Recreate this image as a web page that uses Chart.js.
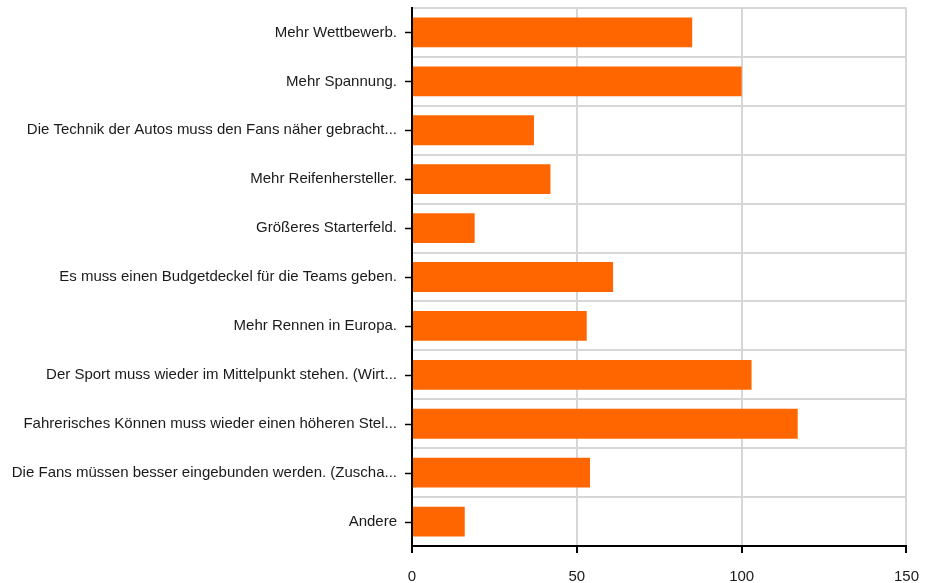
<!DOCTYPE html>
<html>
<head>
<meta charset="utf-8">
<script src="https://cdnjs.cloudflare.com/ajax/libs/Chart.js/4.4.1/chart.umd.js"></script>
<style>
  html, body { margin: 0; padding: 0; background: #fff; }
  #wrap { width: 934px; height: 583px; }
</style>
</head>
<body>
<div id="wrap"><canvas id="chart"></canvas></div>
<script>
let categories = [
    'Mehr Wettbewerb.',
    'Mehr Spannung.',
    'Die Technik der Autos muss den Fans näher gebracht...',
    'Mehr Reifenhersteller.',
    'Größeres Starterfeld.',
    'Es muss einen Budgetdeckel für die Teams geben.',
    'Mehr Rennen in Europa.',
    'Der Sport muss wieder im Mittelpunkt stehen. (Wirt...',
    'Fahrerisches Können muss wieder einen höheren Stel...',
    'Die Fans müssen besser eingebunden werden. (Zuscha...',
    'Andere'
];
let answers = [85, 100, 37, 42, 19, 61, 53, 103, 117, 54, 16];
let x_ticks = [0, 50, 100, 150];

// tick marks centred on the categories (grid lines stay between them)
let centerTicks = {
    id: 'centerTicks',
    afterDraw(chart) {
        let y = chart.scales.y;
        let ctx = chart.ctx;
        ctx.save();
        ctx.strokeStyle = '#000';
        ctx.lineWidth = 1.5;
        for (let i = 0; i < categories.length; i++) {
            let py = Math.round(y.getPixelForValue(i)) + 0.5;
            ctx.beginPath();
            ctx.moveTo(y.right - 7, py);
            ctx.lineTo(y.right, py);
            ctx.stroke();
        }
        ctx.restore();
    }
};

Chart.defaults.font.family = '"Liberation Sans", Arial, sans-serif';
Chart.defaults.font.size = 15;
Chart.defaults.color = '#1a1a1a';

let chart = new Chart(document.getElementById('chart'), {
    type: 'bar',
    data: {
        labels: categories,
        datasets: [{
            data: answers,
            backgroundColor: '#ff6600',
            borderWidth: 0,
            categoryPercentage: 1.0,
            barPercentage: 0.61
        }]
    },
    plugins: [centerTicks],
    options: {
        indexAxis: 'y',
        responsive: true,
        maintainAspectRatio: false,
        animation: false,
        layout: {padding: {top: 0, right: 27, left: 0, bottom: 0}},
        plugins: {
            legend: {display: false},
            tooltip: {enabled: false}
        },
        scales: {
            x: {
                min: 0,
                max: 150,
                afterBuildTicks: (scale) => {
                    scale.ticks = x_ticks.map((v) => ({value: v}));
                },
                afterFit: (scale) => { scale.height = 37; },
                grid: {
                    color: '#d6d6d6',
                    lineWidth: 2,
                    tickColor: '#000',
                    tickLength: 7
                },
                border: {color: '#000', width: 2},
                ticks: {padding: 15, font: {size: 15}}
            },
            y: {
                afterFit: (scale) => {
                    scale.width = 412;
                    scale.paddingTop = 8;
                    scale.paddingBottom = 0;
                },
                grid: {
                    offset: true,
                    color: '#d6d6d6',
                    lineWidth: 2,
                    tickColor: 'rgba(0,0,0,0)',
                    tickLength: 8
                },
                border: {color: '#000', width: 2},
                ticks: {padding: 7, autoSkip: false}
            }
        }
    }
});
</script>
</body>
</html>
